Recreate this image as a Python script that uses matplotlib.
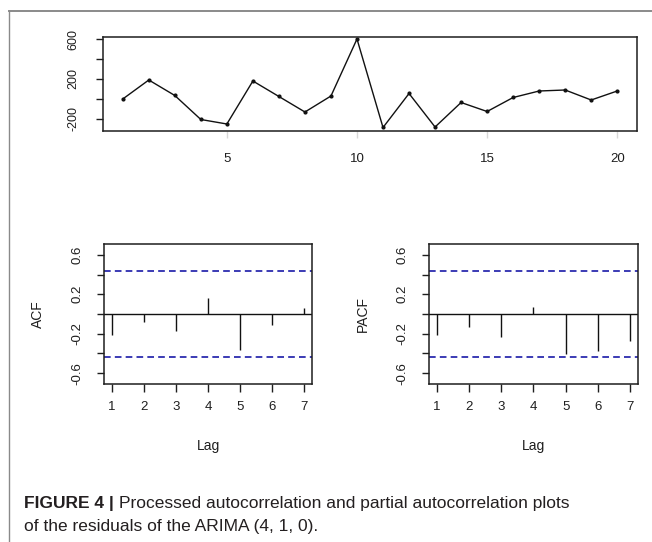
import matplotlib.pyplot as plt
from matplotlib.lines import Line2D

# residual series (top panel)
t = list(range(1, 21))
resid = [0, 190, 35, -205, -250, 180, 25, -130, 30, 600,
         -285, 55, -280, -35, -125, 15, 80, 90, -10, 80]

# ACF / PACF of the residuals
lags = [1, 2, 3, 4, 5, 6, 7]
acf_vals = [-0.21, -0.08, -0.17, 0.16, -0.37, -0.11, 0.06]
pacf_vals = [-0.21, -0.13, -0.23, 0.07, -0.41, -0.38, -0.27]
conf = 0.438  # 1.96 / sqrt(20)

top_xticks = [5, 10, 15, 20]
top_yticks = [-200, 0, 200, 400, 600]
top_ylabels = ["-200", "", "200", "", "600"]
cf_yticks = [-0.6, -0.4, -0.2, 0.0, 0.2, 0.4, 0.6]
cf_ylabels = ["-0.6", "", "-0.2", "", "0.2", "", "0.6"]

caption_bold = "FIGURE 4 |"
caption_rest = "Processed autocorrelation and partial autocorrelation plots"
caption_line2 = "of the residuals of the ARIMA (4, 1, 0)."

plt.rcParams["font.family"] = ["Liberation Sans", "DejaVu Sans"]

W, H = 652, 542
fig = plt.figure(figsize=(W / 100, H / 100), dpi=100)


def box(x0, y0, x1, y1):
    # pixel box (top-left origin) -> figure fraction rect
    return [x0 / W, 1 - y1 / H, (x1 - x0) / W, (y1 - y0) / H]


# gray frame of the figure box
fig.add_artist(Line2D([9 / W, 9 / W], [0, 1 - 11 / H], color="#8a8a8a", lw=1.0))
fig.add_artist(Line2D([9 / W, 1], [1 - 11 / H, 1 - 11 / H], color="#8a8a8a", lw=1.4))

ink = "#1e1e1e"


def style(ax):
    for s in ax.spines.values():
        s.set_linewidth(1.1)
        s.set_color(ink)
    ax.tick_params(axis="both", colors=ink, width=1.0)


# ---- top: residual series ----
ax0 = fig.add_axes(box(103, 37, 637, 131))
ax0.plot(t, resid, color="#111111", lw=1.0, marker="o", ms=2)
ax0.set_xlim(0.24, 20.76)
ax0.set_ylim(-320, 620)
ax0.set_xticks(top_xticks)
ax0.set_yticks(top_yticks)
ax0.set_yticklabels(top_ylabels, rotation=90, va="center")
style(ax0)
ax0.tick_params(axis="x", length=5, color="#d8d8d8", pad=11, labelsize=9.5)
ax0.tick_params(axis="y", length=5, pad=12, labelsize=9)


def cf_panel(rect, vals, ylabel):
    ax = fig.add_axes(rect)
    ax.vlines(lags, 0, vals, color="#111111", lw=1.0)
    ax.axhline(0, color="#111111", lw=1.0)
    ax.axhline(conf, color="#1a1aa8", lw=1.2, ls=(0, (4, 2.5)))
    ax.axhline(-conf, color="#1a1aa8", lw=1.2, ls=(0, (4, 2.5)))
    ax.set_xlim(0.76, 7.24)
    ax.set_ylim(-0.71, 0.71)
    ax.set_xticks(lags)
    ax.set_yticks(cf_yticks)
    ax.set_yticklabels(cf_ylabels, rotation=90, va="center")
    style(ax)
    ax.tick_params(axis="both", labelsize=9.5)
    ax.tick_params(axis="x", length=6, pad=6)
    ax.tick_params(axis="y", length=5, pad=10)
    ax.set_xlabel("Lag", fontsize=10, labelpad=19, color=ink)
    ax.set_ylabel(ylabel, fontsize=10, labelpad=19, color=ink)
    return ax


cf_panel(box(104, 244, 312, 384), acf_vals, "ACF")
cf_panel(box(429, 244, 638, 384), pacf_vals, "PACF")

# caption (bold lead-in, then regular text right after it)
cap_fs = 12.5
t_bold = fig.text(24 / W, 1 - 508 / H, caption_bold, fontsize=cap_fs, fontweight="bold",
                  color="#231f20", va="baseline")
fig.canvas.draw()
bb = t_bold.get_window_extent()
fig.text((bb.x1 + 5) / W, 1 - 508 / H, caption_rest, fontsize=cap_fs,
         color="#231f20", va="baseline")
fig.text(24 / W, 1 - 531 / H, caption_line2, fontsize=cap_fs, color="#231f20",
         va="baseline")

fig.savefig("out.png", dpi=100)
